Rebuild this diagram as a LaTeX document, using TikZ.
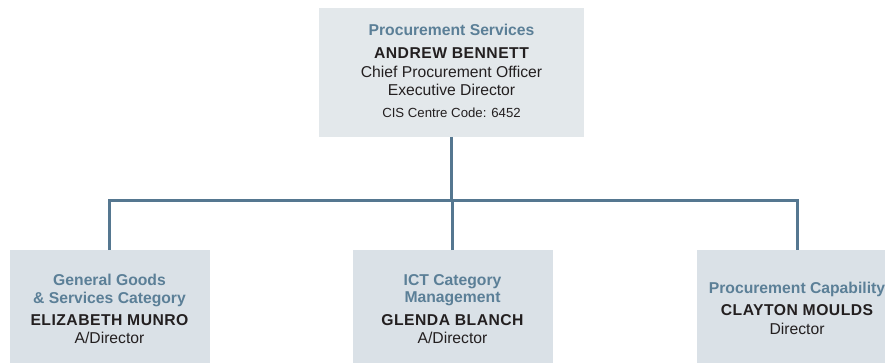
\documentclass[tikz,border=0pt]{standalone}
\usepackage{fontspec}
\setmainfont{Liberation Sans}
\definecolor{topfill}{HTML}{E3E8EB}
\definecolor{subfill}{HTML}{DAE1E7}
\definecolor{linecol}{HTML}{557790}
\definecolor{titleblue}{HTML}{5B7F97}
\definecolor{textdark}{HTML}{231F20}
\begin{document}
\begin{tikzpicture}[x=1pt,y=-1pt,
  box/.style={draw=none, inner sep=0pt, outer sep=0pt, minimum width=200pt, minimum height=115pt, fill=subfill},
  txt/.style={anchor=base, inner sep=0pt, outer sep=0pt, text=textdark},
  ttl/.style={txt, text=titleblue, font=\fontsize{15.7}{18}\selectfont\bfseries},
  nm/.style={txt, font=\fontsize{15.7}{18}\selectfont\bfseries\addfontfeature{LetterSpace=3}},
  bd/.style={txt, font=\fontsize{15.7}{18}\selectfont},
  cd/.style={txt, font=\fontsize{13.2}{16}\selectfont},
  conn/.style={line width=3pt, draw=linecol}]
\useasboundingbox (0,0) rectangle (885,363);
\clip (0,0) rectangle (885,363);
% boxes
\node[box, fill=topfill, minimum width=265pt, minimum height=129pt] (top) at (451.5,72.5) {};
\node[box] (b1) at (109.5,307.5) {};
\node[box] (b2) at (452.5,307.5) {};
\node[box] (b3) at (797,307.5) {};
% connectors
\coordinate (j0) at (0,201);
\draw[conn] (top.south) -- (top.south |- j0);
\draw[conn] (b1.north) -- (b1.north |- j0) -- (b3.north |- j0) -- (b3.north);
\draw[conn] (b2.north) -- (b2.north |- j0);
% top texts
\node[ttl] (t1) at (451.5,36) {Procurement Services};
\node[nm]  (t2) at (451.5,59) {ANDREW BENNETT};
\node[bd]  (t3) at (451.5,77.3) {Chief Procurement Officer};
\node[bd]  (t4) at (451.5,95.7) {Executive Director};
\node[cd]  (t5) at (451.5,117.7) {CIS Centre Code: 6452};
% left
\node[ttl] (l1) at (109.5,285) {General Goods};
\node[ttl] (l2) at (109.5,303.3) {\& Services Category};
\node[nm]  (l3) at (109.5,325) {ELIZABETH MUNRO};
\node[bd]  (l4) at (109.5,343.3) {A/Director};
% middle
\node[ttl] (m1) at (452.5,285) {ICT Category};
\node[ttl] (m2) at (452.5,302.7) {Management};
\node[nm]  (m3) at (452.5,325) {GLENDA BLANCH};
\node[bd]  (m4) at (452.5,343.3) {A/Director};
% right
\node[ttl] (r1) at (797,293.3) {Procurement Capability};
\node[nm]  (r2) at (797,315) {CLAYTON MOULDS};
\node[bd]  (r3) at (797,334) {Director};
\end{tikzpicture}
\end{document}
